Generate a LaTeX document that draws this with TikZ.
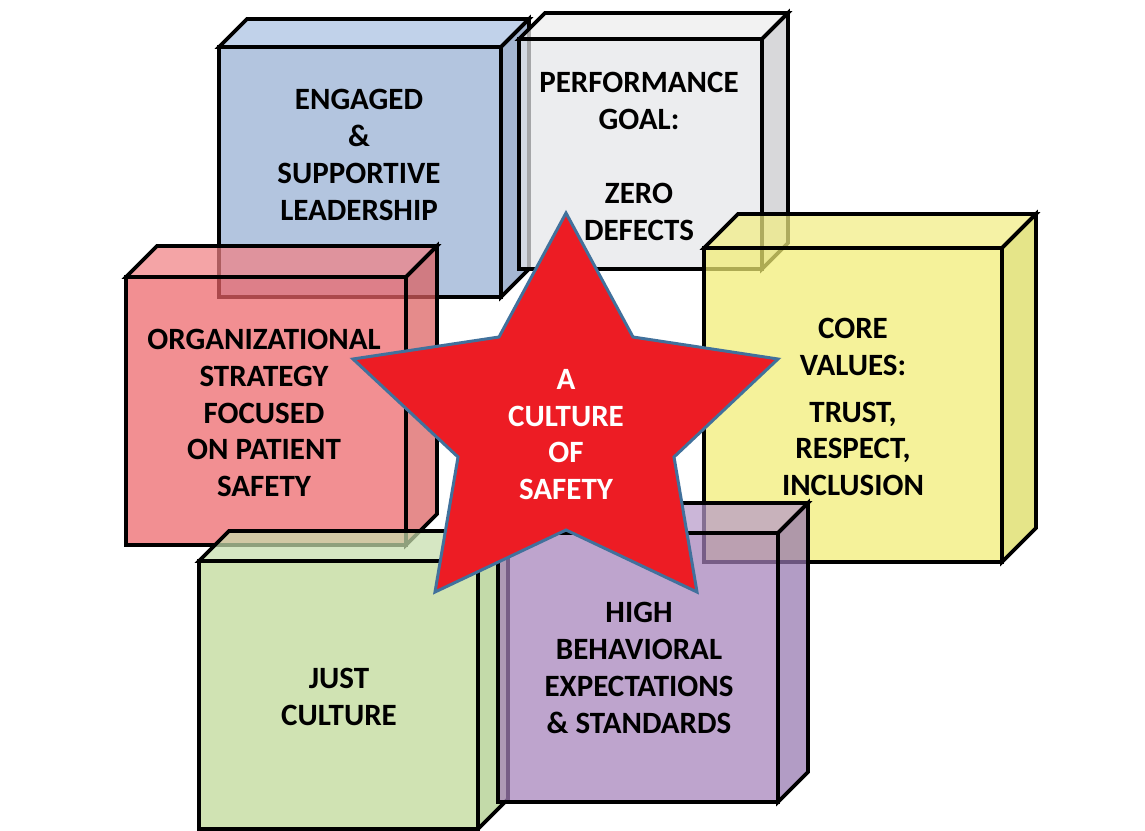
\documentclass[tikz,border=0pt]{standalone}
\usepackage{fontspec}
\setmainfont{Carlito}
\definecolor{bluefront}{RGB}{150,176,212}
\definecolor{bluetop}{RGB}{170,194,226}
\definecolor{blueside}{RGB}{129,155,192}
\definecolor{grayfront}{RGB}{230,231,234}
\definecolor{graytop}{RGB}{238,238,238}
\definecolor{grayside}{RGB}{202,202,204}
\definecolor{yellowfront}{RGB}{242,237,116}
\definecolor{yellowtop}{RGB}{242,238,131}
\definecolor{yellowside}{RGB}{220,220,92}
\definecolor{redfront}{RGB}{238,101,104}
\definecolor{redtop}{RGB}{240,129,132}
\definecolor{redside}{RGB}{220,95,95}
\definecolor{greenfront}{RGB}{190,217,151}
\definecolor{greentop}{RGB}{199,223,172}
\definecolor{greenside}{RGB}{172,204,136}
\definecolor{purplefront}{RGB}{166,129,186}
\definecolor{purpletop}{RGB}{183,154,201}
\definecolor{purpleside}{RGB}{149,118,176}
\definecolor{starred}{RGB}{237,28,36}
\definecolor{starline}{RGB}{65,113,156}
\newcommand\cubeshape[6]{%
  \filldraw[cubeedge, fill=#6top] (#1,#2) -- (#1+#5,#2-#5) -- (#3+#5,#2-#5) -- (#3,#2) -- cycle;
  \filldraw[cubeedge, fill=#6side] (#3,#2) -- (#3+#5,#2-#5) -- (#3+#5,#4-#5) -- (#3,#4) -- cycle;
  \filldraw[cubeedge, fill=#6front] (#1,#2) rectangle (#3,#4);
}
\begin{document}
\begin{tikzpicture}[x=1pt,y=-1pt,
  cubeedge/.style={draw=black, line width=3.6pt, fill opacity=0.72, line join=miter},
  boxtext/.style={font=\fontsize{31}{36.8}\selectfont\bfseries, align=center, inner sep=0pt, text=black},
  startext/.style={boxtext, text=white}]
\useasboundingbox (0,0) rectangle (1145,830);
\fill[white] (0,0) rectangle (1145,830);
% cubes, back to front
\cubeshape{219}{47}{501}{297}{28}{blue}
\cubeshape{519}{39}{762}{269}{26}{gray}
\cubeshape{704}{248}{1002}{562}{34}{yellow}
\cubeshape{126}{277}{406}{545}{31}{red}
\cubeshape{199}{561}{478}{829}{30}{green}
\cubeshape{498}{533}{778}{802}{30}{purple}
% texts
\node[boxtext] (engaged) at (359,155) {ENGAGED\\\&\\SUPPORTIVE\\LEADERSHIP};
\node[boxtext] (perf) at (639,156.5) {PERFORMANCE\\GOAL:\\[38pt]ZERO\\DEFECTS};
\node[boxtext] (core) at (853,407) {CORE\\VALUES:\\[10pt]TRUST,\\RESPECT,\\INCLUSION};
\node[boxtext] (org) at (264,413) {ORGANIZATIONAL\\STRATEGY\\FOCUSED\\ON PATIENT\\SAFETY};
\node[boxtext] (just) at (339,697) {JUST\\CULTURE};
\node[boxtext] (high) at (639,668) {HIGH\\BEHAVIORAL\\EXPECTATIONS\\\& STANDARDS};
% star
\filldraw[fill=starred, draw=starline, line width=3pt, line join=miter]
  (566,213) -- (633,337) -- (778,359) -- (674,457) -- (697,592) -- (566,530)
  -- (435,592) -- (458,457) -- (353,359) -- (499,337) -- cycle;
\node[startext] (culture) at (566,434.5) {A\\CULTURE\\OF\\SAFETY};
\end{tikzpicture}
\end{document}
